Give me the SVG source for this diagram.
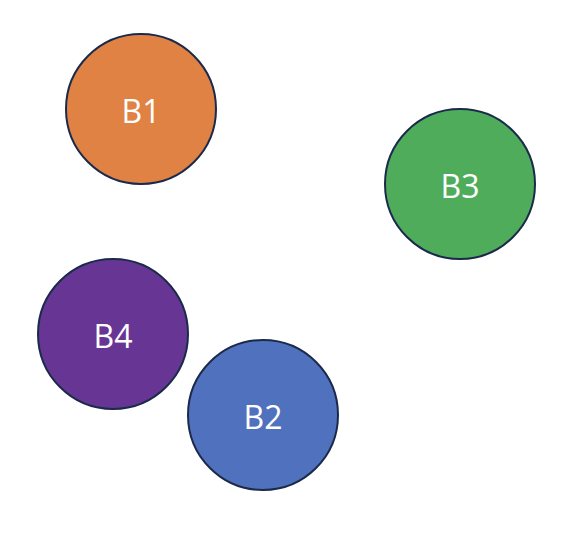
<svg xmlns="http://www.w3.org/2000/svg" width="562" height="536" viewBox="0 0 562 536">
<style>
.n{stroke:#1B2A4A;stroke-width:2}
.t{font-family:"Open Sans","Liberation Sans",sans-serif;font-size:32px;font-weight:500;fill:#ffffff;text-anchor:middle;dominant-baseline:central}
</style>
<rect width="562" height="536" fill="#ffffff"/>
<g id="connectors"></g>
<g id="B1"><circle class="n" cx="141" cy="109" r="75" fill="#DF8244"/><text class="t" x="141" y="110">B1</text></g>
<g id="B3"><circle class="n" cx="460" cy="184" r="75" fill="#4EAC5B"/><text class="t" x="460" y="185">B3</text></g>
<g id="B4"><circle class="n" cx="113" cy="334" r="75" fill="#673695"/><text class="t" x="113" y="335">B4</text></g>
<g id="B2"><circle class="n" cx="263" cy="415" r="75" fill="#4F71BE"/><text class="t" x="263" y="416">B2</text></g>
</svg>
